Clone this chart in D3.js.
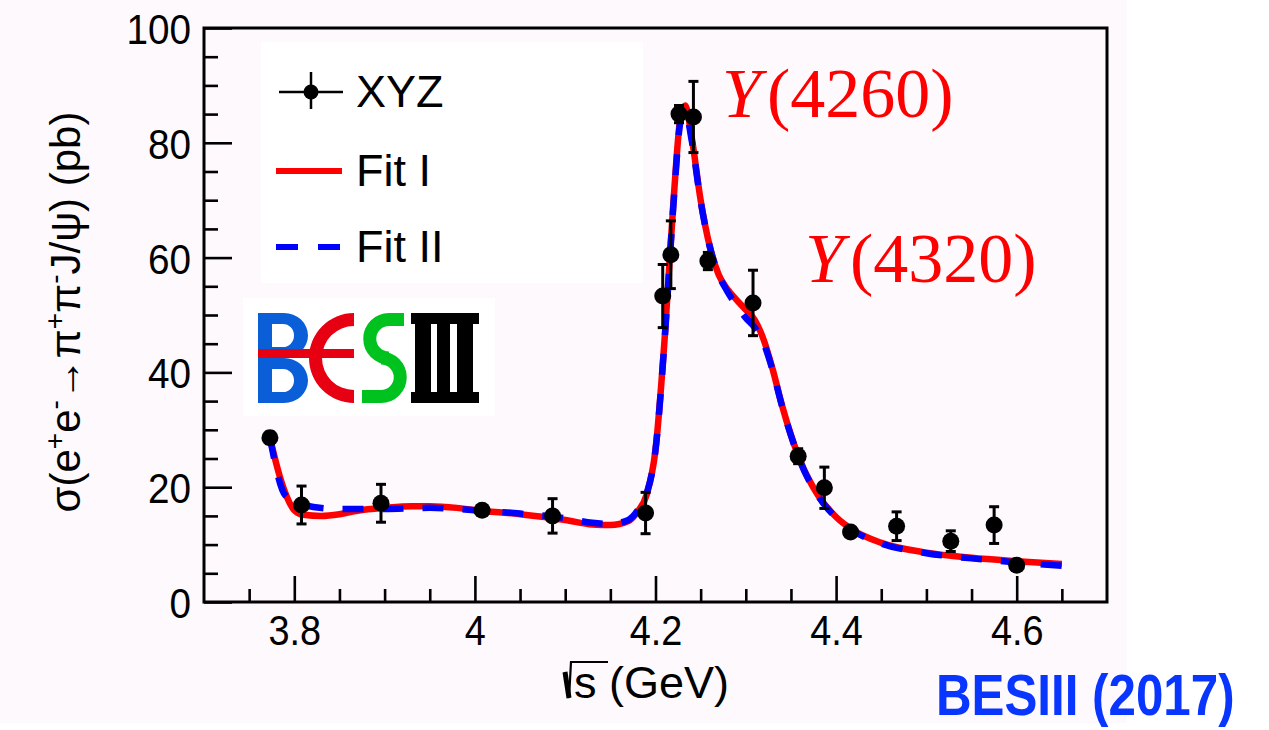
<!DOCTYPE html>
<html>
<head>
<meta charset="utf-8">
<script src="https://cdn.jsdelivr.net/npm/d3@7"></script>
<style>
  html, body { margin: 0; padding: 0; background: #ffffff; }
  svg { display: block; }
</style>
</head>
<body>
<svg id="chart" width="1269" height="730"></svg>
<script>
// Measured cross sections for e+e- -> pi+ pi- J/psi (XYZ data sets)
const energies = [3.773, 3.808, 3.896, 4.008, 4.086, 4.189, 4.208, 4.217, 4.226, 4.242,
                  4.258, 4.308, 4.358, 4.387, 4.416, 4.467, 4.527, 4.575, 4.600];
const sigma    = [28.6, 16.9, 17.2, 16.0, 15.0, 15.5, 53.3, 60.5, 85.0, 84.5,
                  59.4, 52.1, 25.4, 19.9, 12.2, 13.2, 10.6, 13.4, 6.4];
const sigmaErr = [1.0, 3.3, 3.3, 0.8, 3.0, 3.6, 5.5, 5.9, 1.5, 6.2,
                  1.5, 5.7, 1.3, 3.6, 0.8, 2.5, 1.8, 3.2, 0.6];

// Fit I (solid red)
const fit1X = [3.773, 3.785, 3.80, 3.81, 3.83, 3.85, 3.87, 3.90, 3.93, 3.95, 3.98, 4.00,
               4.05, 4.10, 4.13, 4.15, 4.17, 4.18, 4.19, 4.20, 4.21, 4.22, 4.228, 4.233,
               4.24, 4.25, 4.26, 4.27, 4.28, 4.29, 4.30, 4.31, 4.32, 4.33, 4.34, 4.35,
               4.36, 4.38, 4.40, 4.42, 4.45, 4.50, 4.55, 4.60, 4.65];
const fit1Y = [28.6, 21.3, 16.0, 15.2, 15.0, 15.3, 15.9, 16.4, 16.7, 16.7, 16.4, 16.0,
               15.3, 14.3, 13.5, 13.4, 14.1, 15.7, 18.6, 26.5, 45.6, 70.0, 84.8, 86.5,
               81.0, 70.0, 62.0, 57.0, 54.4, 52.6, 50.9, 49.1, 45.6, 40.4, 34.3, 29.1,
               24.7, 18.6, 14.8, 12.4, 10.3, 8.6, 7.7, 7.1, 6.6];

// Fit II (dashed blue)
const fit2X = [3.773, 3.79, 3.81, 3.85, 3.90, 3.95, 4.00, 4.05, 4.10, 4.13, 4.15, 4.17,
               4.18, 4.19, 4.20, 4.21, 4.22, 4.228, 4.233, 4.24, 4.25, 4.26, 4.27, 4.28,
               4.29, 4.30, 4.31, 4.32, 4.33, 4.34, 4.35, 4.36, 4.38, 4.40, 4.42, 4.45,
               4.50, 4.55, 4.60, 4.65];
const fit2Y = [28.6, 18.6, 16.9, 16.2, 16.2, 16.4, 16.0, 15.4, 14.6, 13.8, 13.6, 14.3,
               15.9, 18.8, 26.5, 45.4, 69.5, 84.0, 85.5, 80.5, 69.8, 62.0, 57.0, 54.0,
               51.6, 49.5, 47.8, 45.0, 40.2, 34.2, 29.0, 24.6, 18.5, 14.7, 12.3, 10.2,
               8.5, 7.6, 6.9, 6.3];

const xMajor = [3.8, 4.0, 4.2, 4.4, 4.6];
const xMajorLabels = ["3.8", "4", "4.2", "4.4", "4.6"];
const xMinor = [3.75, 3.85, 3.9, 3.95, 4.05, 4.1, 4.15, 4.25, 4.3, 4.35, 4.45, 4.5, 4.55, 4.65];
const yMajor = [0, 20, 40, 60, 80, 100];
const yMinor = [5, 10, 15, 25, 30, 35, 45, 50, 55, 65, 70, 75, 85, 90, 95];

const legendLabels = ["XYZ", "Fit I", "Fit II"];

const svg = d3.select("#chart");
const W = 1269, H = 730;
const frame = { left: 204, right: 1107, top: 28, bottom: 602 };

const x = d3.scaleLinear().domain([3.7, 4.7]).range([frame.left, frame.right]);
const y = d3.scaleLinear().domain([0, 100]).range([frame.bottom, frame.top]);

const sans = "'Liberation Sans', Arial, Helvetica, sans-serif";
const serif = "'Liberation Serif', 'Times New Roman', serif";

// page background of the figure panel
svg.append("rect").attr("x", 0).attr("y", 0).attr("width", W).attr("height", H).attr("fill", "#ffffff");
svg.append("rect").attr("x", 0).attr("y", 0).attr("width", 1127).attr("height", 723).attr("fill", "#fdf9fd");

// legend box
const legendBox = { x: 261, y: 42, w: 382, h: 241 };
svg.append("rect").attr("x", legendBox.x).attr("y", legendBox.y)
  .attr("width", legendBox.w).attr("height", legendBox.h).attr("fill", "#ffffff");

// logo box
svg.append("rect").attr("x", 243).attr("y", 298).attr("width", 252).attr("height", 118).attr("fill", "#ffffff");

// axes: major and minor ticks point inward
const tickFont = 43;
const xAxisMajor = d3.axisBottom(x).tickValues(xMajor).tickSize(-26).tickPadding(12)
  .tickFormat((d, i) => xMajorLabels[i]);
const xAxisMinor = d3.axisBottom(x).tickValues(xMinor).tickSize(-13).tickFormat("");
const yAxisMajor = d3.axisLeft(y).tickValues(yMajor).tickSize(-28).tickPadding(13)
  .tickFormat(d3.format("d"));
const yAxisMinor = d3.axisLeft(y).tickValues(yMinor).tickSize(-14).tickFormat("");

function styleAxis(g) {
  g.select(".domain").remove();
  g.selectAll(".tick line").attr("stroke", "#000").attr("stroke-width", 2.6);
  g.selectAll("text").attr("fill", "#000").style("font-family", sans).style("font-size", tickFont + "px");
}

const gx = svg.append("g").attr("transform", `translate(0,${frame.bottom})`).call(xAxisMajor).call(styleAxis);
gx.selectAll("text").attr("transform", "scale(0.88,1)");
svg.append("g").attr("transform", `translate(0,${frame.bottom})`).call(xAxisMinor).call(styleAxis);

const gy = svg.append("g").attr("transform", `translate(${frame.left},0)`).call(yAxisMajor).call(styleAxis);
gy.selectAll(".tick text").attr("x", -13).attr("dy", "0.36em")
  .attr("transform", "translate(-13,0) scale(0.9,1) translate(13,0)");
svg.append("g").attr("transform", `translate(${frame.left},0)`).call(yAxisMinor).call(styleAxis);

// fit curves
const line = (xs, ys) => d3.line()
  .x((d, i) => x(xs[i])).y((d, i) => y(ys[i]))
  .curve(d3.curveMonotoneX)(xs);

svg.append("path").attr("d", line(fit1X, fit1Y))
  .attr("fill", "none").attr("stroke", "#ff0000").attr("stroke-width", 6.5)
  .attr("stroke-linejoin", "round");
svg.append("path").attr("d", line(fit2X, fit2Y))
  .attr("fill", "none").attr("stroke", "#0000ff").attr("stroke-width", 6.5)
  .attr("stroke-dasharray", "21,19");

// data points with error bars
const pts = svg.append("g");
energies.forEach((e, i) => {
  const cx = x(e), cy = y(sigma[i]);
  const y0 = y(sigma[i] - sigmaErr[i]), y1 = y(sigma[i] + sigmaErr[i]);
  pts.append("line").attr("x1", cx).attr("x2", cx).attr("y1", y0).attr("y2", y1)
    .attr("stroke", "#000").attr("stroke-width", 3);
  [y0, y1].forEach(yy => pts.append("line").attr("x1", cx - 5).attr("x2", cx + 5)
    .attr("y1", yy).attr("y2", yy).attr("stroke", "#000").attr("stroke-width", 3));
  pts.append("circle").attr("cx", cx).attr("cy", cy).attr("r", 8.5).attr("fill", "#000");
});

// frame
svg.append("rect").attr("x", frame.left).attr("y", frame.top)
  .attr("width", frame.right - frame.left).attr("height", frame.bottom - frame.top)
  .attr("fill", "none").attr("stroke", "#000").attr("stroke-width", 3);

// legend entries
const lg = svg.append("g");
const legendFont = 45;
// data marker
lg.append("line").attr("x1", 279).attr("x2", 343).attr("y1", 92).attr("y2", 92).attr("stroke", "#000").attr("stroke-width", 2.5);
lg.append("line").attr("x1", 311).attr("x2", 311).attr("y1", 72).attr("y2", 109).attr("stroke", "#000").attr("stroke-width", 2.5);
lg.append("circle").attr("cx", 311).attr("cy", 92).attr("r", 7.5).attr("fill", "#000");
// Fit I
lg.append("line").attr("x1", 276).attr("x2", 342).attr("y1", 171).attr("y2", 171).attr("stroke", "#ff0000").attr("stroke-width", 6);
// Fit II
lg.append("line").attr("x1", 276).attr("x2", 342).attr("y1", 247).attr("y2", 247).attr("stroke", "#0000ff").attr("stroke-width", 6)
  .attr("stroke-dasharray", "22,20");
const legendY = [107, 186, 262];
legendLabels.forEach((t, i) => {
  lg.append("text").attr("x", 356).attr("y", legendY[i]).text(t)
    .attr("fill", "#000").style("font-family", sans).style("font-size", legendFont + "px");
});

// BESIII logo
const logo = svg.append("g").attr("transform", "translate(258,313)");
const blue = "#0a5fd8", red = "#e60012", green = "#00c21e";
logo.append("path").attr("fill", blue).attr("fill-rule", "evenodd").attr("d",
  "M0,0 H26 A24,22.5 0 0 1 26,45 H0 Z M14,11 H25 A11,11.5 0 0 1 25,34 H14 Z" +
  " M0,45 H26 A24,22.5 0 0 1 26,90 H0 Z M14,56 H25 A11,11.5 0 0 1 25,79 H14 Z");
logo.append("path").attr("fill", red).attr("d",
  "M96,0 A45,45 0 0 0 96,90 L96,77 A32,32 0 0 1 96,13 Z");
logo.append("rect").attr("fill", red).attr("x", 0).attr("y", 36).attr("width", 96).attr("height", 9);
logo.append("path").attr("fill", "none").attr("stroke", green).attr("stroke-width", 13)
  .attr("d", "M146,6.5 H131 A19.25,19.25 0 0 0 131,45 H123 A19.25,19.25 0 0 1 123,83.5 H104");
logo.append("path").attr("fill", "#000").attr("d",
  "M153,0 H221 V11 H153 Z M153,79 H221 V90 H153 Z M157,0 H173 V90 H157 Z M179,0 H192 V90 H179 Z M199,0 H215 V90 H199 Z");

// resonance labels
function resonanceLabel(px, py, mass) {
  const t = svg.append("text").attr("x", px).attr("y", py)
    .attr("fill", "#ff0000").style("font-family", serif).style("font-size", "70px");
  t.append("tspan").style("font-style", "italic").text("Y");
  t.append("tspan").attr("dx", 6).text("(" + mass + ")");
}
resonanceLabel(722, 117, "4260");
resonanceLabel(805, 282, "4320");

// axis titles
const xt = svg.append("g");
xt.append("path").attr("d", "M565,672 L569,698 L571,662 L608,662")
  .attr("fill", "none").attr("stroke", "#000").attr("stroke-width", 2.2);
xt.append("path").attr("d", "M565,672 L569,698").attr("stroke", "#000").attr("stroke-width", 5);
xt.append("text").attr("x", 574).attr("y", 698).text("s (GeV)")
  .attr("fill", "#000").style("font-family", sans).style("font-size", "45px");

const yt = svg.append("text").attr("transform", "translate(80,312) rotate(-90)")
  .attr("text-anchor", "middle").attr("fill", "#000")
  .style("font-family", sans).style("font-size", "42px");
const ytParts = [
  ["σ(e", 0], ["+", 1], ["e", 0], ["-", 1], ["→π", 0], ["+", 1], ["π", 0], ["-", 1], ["J/ψ) (pb)", 0]
];
let raised = false;
ytParts.forEach(([s, sup]) => {
  const ts = yt.append("tspan").text(s);
  if (sup && !raised) { ts.attr("dy", -16).style("font-size", "28px"); raised = true; }
  else if (!sup && raised) { ts.attr("dy", 16); raised = false; }
});

// publication tag
svg.append("text").attr("transform", "translate(936,715) scale(0.85,1)")
  .attr("fill", "#0836ff").style("font-family", sans).style("font-weight", "bold")
  .style("font-size", "58px").text("BESIII (2017)");
</script>
</body>
</html>
